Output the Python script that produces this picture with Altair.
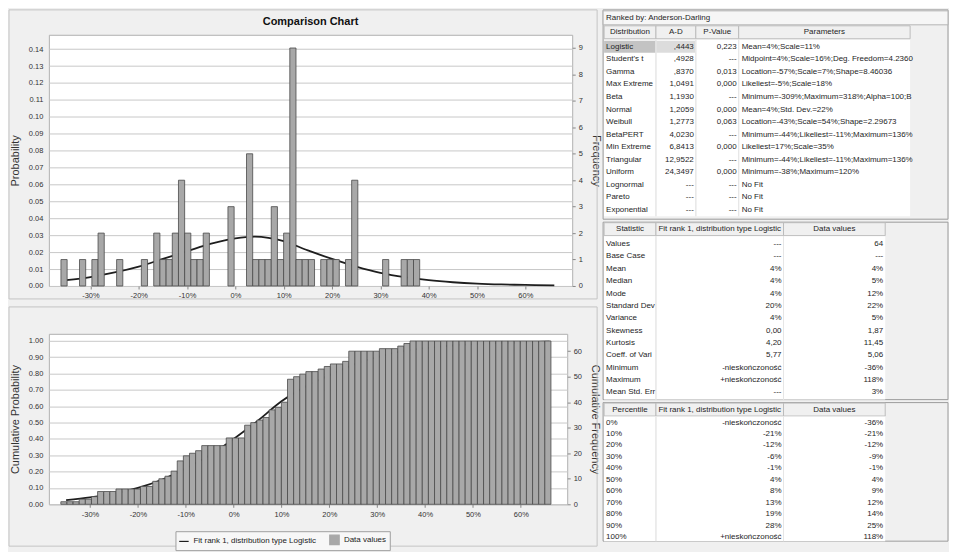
import altair as alt
import pandas as pd

FONT = "Liberation Sans"

# ---------------- histogram data ----------------
BIN_START = -36.1      # % : left edge of first bin
BIN_WIDTH = 1.28       # % : width of a bin
N_BINS = 80
hist_bins = [0, 3, 5, 6, 9, 13, 15, 16, 17, 18, 19, 20, 21, 22, 23, 27, 30, 31, 32, 33,
             34, 35, 36, 37, 38, 39, 40, 42, 43, 44, 46, 47, 52, 55, 56, 57]
hist_counts = [1, 1, 1, 2, 1, 1, 2, 1, 1, 2, 4, 2, 1, 1, 2, 3, 5, 1, 1, 1,
               3, 1, 2, 9, 1, 1, 1, 1, 1, 1, 1, 4, 1, 1, 1, 1]

pdf_x = [-35, -30, -25, -20, -15, -10, -5, 0, 4, 10, 15, 20, 25, 30, 35, 40, 45, 50, 55, 60, 66]
pdf_prob = [0.0035, 0.0053, 0.008, 0.0115, 0.016, 0.0205, 0.025, 0.0282, 0.0292, 0.0265, 0.021,
            0.016, 0.0115, 0.0078, 0.0052, 0.0034, 0.0022, 0.0014, 0.0009, 0.0006, 0.0003]
cdf_x = [-35, -30, -25, -20, -15, -10, -5, 0, 5, 10, 15, 20, 25, 30, 35, 40, 45, 50, 55, 60, 66]
cdf_prob = [0.025, 0.042, 0.065, 0.10, 0.15, 0.22, 0.30, 0.40, 0.51, 0.63, 0.72, 0.79, 0.855,
            0.90, 0.935, 0.955, 0.97, 0.98, 0.986, 0.99, 0.995]

x_tick_values = [-30, -20, -10, 0, 10, 20, 30, 40, 50, 60]
prob_tick_values = [0.00, 0.01, 0.02, 0.03, 0.04, 0.05, 0.06, 0.07, 0.08, 0.09, 0.10, 0.11, 0.12, 0.13, 0.14]
freq_tick_values = [0, 1, 2, 3, 4, 5, 6, 7, 8, 9]
cum_prob_tick_values = [0.0, 0.1, 0.2, 0.3, 0.4, 0.5, 0.6, 0.7, 0.8, 0.9, 1.0]
cum_freq_tick_values = [0, 10, 20, 30, 40, 50, 60]

CHART_TITLE = "Comparison Chart"
FIT_LABEL = "Fit rank 1, distribution type Logistic"
DATA_LABEL = "Data values"

# ---------------- table data ----------------
ranked_by = "Ranked by: Anderson-Darling"
t1_headers = ["Distribution", "A-D", "P-Value", "Parameters"]
t1_dist = ["Logistic", "Student's t", "Gamma", "Max Extreme", "Beta", "Normal", "Weibull",
           "BetaPERT", "Min Extreme", "Triangular", "Uniform", "Lognormal", "Pareto", "Exponential"]
t1_ad = [",4443", ",4928", ",8370", "1,0491", "1,1930", "1,2059", "1,2773", "4,0230", "6,8413",
         "12,9522", "24,3497", "---", "---", "---"]
t1_p = ["0,223", "---", "0,013", "0,000", "---", "0,000", "0,063", "---", "0,000", "---",
        "0,000", "---", "---", "---"]
t1_params = ["Mean=4%;Scale=11%", "Midpoint=4%;Scale=16%;Deg. Freedom=4.2360",
             "Location=-57%;Scale=7%;Shape=8.46036", "Likeliest=-5%;Scale=18%",
             "Minimum=-309%;Maximum=318%;Alpha=100;B", "Mean=4%;Std. Dev.=22%",
             "Location=-43%;Scale=54%;Shape=2.29673", "Minimum=-44%;Likeliest=-11%;Maximum=136%",
             "Likeliest=17%;Scale=35%", "Minimum=-44%;Likeliest=-11%;Maximum=136%",
             "Minimum=-38%;Maximum=120%", "No Fit", "No Fit", "No Fit"]

t2_headers = ["Statistic", "Fit rank 1, distribution type Logistic", "Data values"]
t2_stat = ["Values", "Base Case", "Mean", "Median", "Mode", "Standard Dev", "Variance", "Skewness",
           "Kurtosis", "Coeff. of Vari", "Minimum", "Maximum", "Mean  Std. Err"]
t2_fit = ["---", "---", "4%", "4%", "4%", "20%", "4%", "0,00", "4,20", "5,77",
          "-nieskończoność", "+nieskończoność", "---"]
t2_data = ["64", "---", "4%", "5%", "12%", "22%", "5%", "1,87", "11,45", "5,06", "-36%", "118%", "3%"]

t3_headers = ["Percentile", "Fit rank 1, distribution type Logistic", "Data values"]
t3_pct = ["0%", "10%", "20%", "30%", "40%", "50%", "60%", "70%", "80%", "90%", "100%"]
t3_fit = ["-nieskończoność", "-21%", "-12%", "-6%", "-1%", "4%", "8%", "13%", "19%", "28%", "+nieskończoność"]
t3_data = ["-36%", "-21%", "-12%", "-9%", "-1%", "4%", "9%", "12%", "14%", "25%", "118%"]

# ---------------- charts ----------------
count_map = dict(zip(hist_bins, hist_counts))
bins_df = pd.DataFrame({"bin": list(range(N_BINS)),
                        "count": [count_map.get(i, 0) for i in range(N_BINS)]})
bin_calc = dict(lo=f"{BIN_START} + {BIN_WIDTH} * datum.bin",
                hi=f"{BIN_START} + {BIN_WIDTH} * (datum.bin + 1)")

x_scale = alt.Scale(domain=[-38.6, 69.7], nice=False, zero=False)
TOP_W, TOP_H = 525, 252
BOT_W, BOT_H = 520, 171


def x_axis():
    return alt.Axis(values=x_tick_values, labelExpr="datum.value + '%'", title=None, grid=False,
                    domain=False, ticks=True, tickSize=3, tickColor="#888", labelFontSize=7.5,
                    labelColor="#333", labelPadding=3, labelFont=FONT)


def left_axis(values, title):
    return alt.Axis(orient="left", values=values, format=".2f", title=title, grid=True,
                    gridColor="#c8c8c8", domain=False, ticks=False, labelFontSize=7.5,
                    labelColor="#333", labelFont=FONT, titleFont=FONT, titleFontSize=11,
                    titleFontWeight="normal", titleColor="#333", labelPadding=6, titlePadding=8)


def right_axis(values, title):
    return alt.Axis(orient="right", values=values, title=title, grid=False, domain=False,
                    ticks=True, tickSize=3, tickColor="#888", labelFontSize=7.5, labelColor="#333",
                    labelFont=FONT, titleFont=FONT, titleFontSize=11, titleFontWeight="normal",
                    titleColor="#333", labelPadding=3, titlePadding=8)


def frame(x1, x2, y1, y2):
    return alt.Chart(pd.DataFrame({"f": [0]})).mark_rect(
        fill="transparent", stroke="#c4c4c4", strokeWidth=1).encode(
        x=alt.value(x1), x2=alt.value(x2), y=alt.value(y1), y2=alt.value(y2))


hist_bars = alt.Chart(bins_df).transform_filter("datum.count > 0").transform_calculate(
    **bin_calc).mark_bar(fill="#a8a8a8", stroke="#4a4a4a", strokeWidth=0.8).encode(
    x=alt.X("lo:Q", scale=x_scale, axis=x_axis()),
    x2="hi:Q",
    y=alt.Y("count:Q", scale=alt.Scale(domain=[0, 9.5], nice=False),
            axis=right_axis(freq_tick_values, "Frequency")),
    y2=alt.datum(0),
)
pdf_df = pd.DataFrame({"x": pdf_x, "p": pdf_prob})
pdf_line = alt.Chart(pdf_df).mark_line(color="#1e1e1e", strokeWidth=1.8, interpolate="monotone").encode(
    x=alt.X("x:Q", scale=x_scale, axis=x_axis()),
    y=alt.Y("p:Q", scale=alt.Scale(domain=[0, 0.1485], nice=False),
            axis=left_axis(prob_tick_values, "Probability")),
)
title_text = alt.Chart(pd.DataFrame({"t": [CHART_TITLE]})).mark_text(
    font=FONT, fontSize=11, fontWeight="bold", color="#111", align="center", baseline="middle").encode(
    text="t:N", x=alt.value(TOP_W / 2), y=alt.value(-13))

top = alt.layer(frame(-40, TOP_W + 25, -25, TOP_H + 13), pdf_line, hist_bars, title_text).resolve_scale(
    y="independent").properties(width=TOP_W, height=TOP_H)

color_scale = alt.Scale(domain=[FIT_LABEL, DATA_LABEL], range=["#1e1e1e", "#a8a8a8"])
cum_bars = alt.Chart(bins_df).transform_window(
    cum="sum(count)", sort=[alt.SortField("bin")], frame=[None, 0]).transform_calculate(
    series=f"'{DATA_LABEL}'", **bin_calc).mark_bar(stroke="#4a4a4a", strokeWidth=0.8).encode(
    x=alt.X("lo:Q", scale=x_scale, axis=x_axis()),
    x2="hi:Q",
    y=alt.Y("cum:Q", scale=alt.Scale(domain=[0, 66.8], nice=False),
            axis=right_axis(cum_freq_tick_values, "Cumulative Frequency")),
    y2=alt.datum(0),
    color=alt.Color("series:N", scale=color_scale, legend=alt.Legend(
        title=None, orient="none", legendX=127, legendY=198, direction="horizontal",
        symbolType=alt.ExprRef(expr="datum.label == 'Data values' ? 'square' : 'stroke'"),
        symbolStrokeColor="#333", symbolStrokeWidth=1.2, symbolSize=90,
        labelFont=FONT, labelFontSize=8, labelColor="#222", fillColor="#f7f7f7",
        strokeColor="#a0a0a0", padding=3, columnPadding=10)),
)
cdf_df = pd.DataFrame({"x": cdf_x, "p": cdf_prob, "series": FIT_LABEL})
cdf_line = alt.Chart(cdf_df).mark_line(strokeWidth=1.8, interpolate="monotone").encode(
    x=alt.X("x:Q", scale=x_scale, axis=x_axis()),
    y=alt.Y("p:Q", scale=alt.Scale(domain=[0, 1.043], nice=False),
            axis=left_axis(cum_prob_tick_values, "Cumulative Probability")),
    color=alt.Color("series:N", scale=color_scale),
)
bottom = alt.layer(frame(-40, BOT_W + 30, -27, BOT_H + 42), cdf_line, cum_bars).resolve_scale(
    y="independent").properties(width=BOT_W, height=BOT_H)


# ---------------- tables ----------------
def table_chart(width, height, rects, texts, lift=0):
    """Table drawn in pixel-like units; `lift` px of it sit above the view origin."""
    xs = alt.Scale(domain=[0, width], nice=False, zero=False)
    ys = alt.Scale(domain=[lift, height], nice=False, zero=False, reverse=True)
    rects = [[0, width, 0, height, "transparent", "#9c9c9c"]] + rects
    rdf = pd.DataFrame(rects, columns=["x", "x2", "y", "y2", "fill", "stroke"])
    layers = [alt.Chart(rdf).mark_rect(strokeWidth=1).encode(
        x=alt.X("x:Q", scale=xs, axis=None), x2="x2:Q",
        y=alt.Y("y:Q", scale=ys, axis=None), y2="y2:Q",
        fill=alt.Fill("fill:N", scale=None), stroke=alt.Stroke("stroke:N", scale=None))]
    tdf = pd.DataFrame(texts, columns=["x", "y", "text", "align"])
    for a in ["left", "center", "right"]:
        layers.append(alt.Chart(tdf).transform_filter(f"datum.align == '{a}'").mark_text(
            align=a, baseline="middle", font=FONT, fontSize=8, color="#1e1e1e").encode(
            x=alt.X("x:Q", scale=xs, axis=None), y=alt.Y("y:Q", scale=ys, axis=None),
            text="text:N"))
    return alt.layer(*layers).properties(
        width=width, height=height - lift,
        view=alt.ViewBackground(fill="#f0f0f0", stroke="transparent"))


TW = 346
LIFT = 25
# table 1
E1 = [1, 53, 93, 136, 308]
R1_Y0, R1_STEP = 37, 12.6
rects1 = [[0, TW, 1, 15, "#f6f6f6", "#b4b4b4"]]
for i in range(4):
    rects1.append([E1[i], E1[i + 1], 16, 29, "#f0f0f0", "#bcbcbc"])
rects1.append([E1[0], E1[-1], 30, 207, "white", "transparent"])
rects1.append([E1[0], E1[1], 31, 43, "#c3c3c3", "transparent"])
rects1.append([E1[1], E1[2], 31, 43, "#dcdcdc", "transparent"])
for e in E1[1:-1]:
    rects1.append([e, e, 30, 207, "transparent", "#e6e6e6"])
texts1 = [[3, 8.5, ranked_by, "left"]]
for i, h in enumerate(t1_headers):
    texts1.append([(E1[i] + E1[i + 1]) / 2, 22.5, h, "center"])
for r in range(len(t1_dist)):
    yv = R1_Y0 + R1_STEP * r
    texts1.append([E1[0] + 2, yv, t1_dist[r], "left"])
    texts1.append([E1[2] - 2, yv, t1_ad[r], "right"])
    texts1.append([E1[3] - 2, yv, t1_p[r], "right"])
    texts1.append([E1[3] + 3, yv, t1_params[r], "left"])
table1 = table_chart(TW, 210, rects1, texts1, lift=LIFT)

E2 = [1, 53, 181, 283]


def stat_table(height, headers, c0, c1, c2, y0=22, step=12.4):
    rects = []
    for i in range(3):
        rects.append([E2[i], E2[i + 1], 0.5, 13.5, "#f0f0f0", "#bcbcbc"])
    rects.append([E2[0], E2[-1], 14, height, "white", "transparent"])
    for e in E2[1:-1]:
        rects.append([e, e, 14, height, "transparent", "#e6e6e6"])
    texts = []
    for i, h in enumerate(headers):
        texts.append([(E2[i] + E2[i + 1]) / 2, 7, h, "center"])
    for r in range(len(c0)):
        yv = y0 + step * r
        texts.append([E2[0] + 2, yv, c0[r], "left"])
        texts.append([E2[2] - 2, yv, c1[r], "right"])
        texts.append([E2[3] - 2, yv, c2[r], "right"])
    return table_chart(TW, height, rects, texts)


table2 = stat_table(178, t2_headers, t2_stat, t2_fit, t2_data)
table3 = stat_table(139, t3_headers, t3_pct, t3_fit, t3_data, y0=20, step=11.5)

left = alt.vconcat(top, bottom, spacing=6).resolve_scale(color="independent").resolve_legend(
    color="independent")
right = alt.vconcat(table1, table2, table3, spacing=1)
chart = alt.hconcat(left, right, spacing=0).properties(padding=0).configure(
    background="#f0f0f0").configure_view(fill="white", stroke="#b0b0b0")

chart.save("out.html", embed_options={"renderer": "svg", "actions": False})
